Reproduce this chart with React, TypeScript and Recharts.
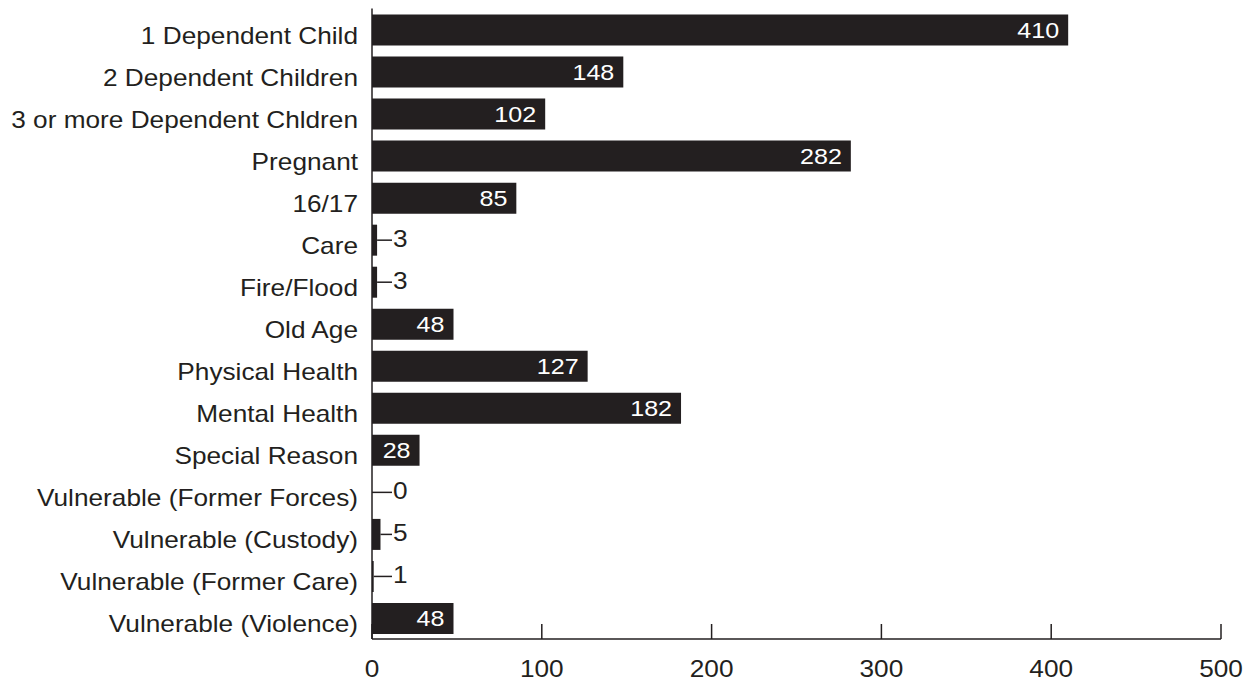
import { BarChart, Bar, XAxis, YAxis, LabelList } from 'recharts'

const categories = [
  '1 Dependent Child',
  '2 Dependent Children',
  '3 or more Dependent Chldren',
  'Pregnant',
  '16/17',
  'Care',
  'Fire/Flood',
  'Old Age',
  'Physical Health',
  'Mental Health',
  'Special Reason',
  'Vulnerable (Former Forces)',
  'Vulnerable (Custody)',
  'Vulnerable (Former Care)',
  'Vulnerable (Violence)',
]
const counts = [410, 148, 102, 282, 85, 3, 3, 48, 127, 182, 28, 0, 5, 1, 48]
const xTicks = [0, 100, 200, 300, 400, 500]

const data = categories.map((name, i) => ({ name, count: counts[i] }))

const INK = '#231f20'
const FONT = '"Liberation Sans", Arial, Helvetica, sans-serif'
const STRETCH = 1.14

function CategoryTick({ x, y, payload }: any) {
  // labels sit a little lower than the bar centre in the original
  return (
    <text
      transform={`translate(${x - 14}, ${y + 14}) scale(${STRETCH},1)`}
      textAnchor="end"
      fontSize={23}
      fontFamily={FONT}
      fill={INK}
    >
      {payload.value}
    </text>
  )
}

function ValueTick({ x, y, payload }: any) {
  return (
    <g>
      <line x1={x} y1={y} x2={x} y2={y - 15} stroke={INK} strokeWidth={1.5} />
      <text
        transform={`translate(${x}, ${y + 38}) scale(${STRETCH},1)`}
        textAnchor="middle"
        fontSize={23}
        fontFamily={FONT}
        fill={INK}
      >
        {payload.value}
      </text>
    </g>
  )
}

function renderValue(props: any) {
  const { x, y, width, height, value } = props
  const cy = y + height / 2
  if (value >= 20) {
    return (
      <text
        transform={`translate(${x + width - 9}, ${cy + 8}) scale(${STRETCH},1)`}
        textAnchor="end"
        fontSize={22}
        fontFamily={FONT}
        fill="#fff"
      >
        {value}
      </text>
    )
  }
  // small bars get the number outside with a short leader line
  return (
    <g>
      <line x1={x + width} y1={cy} x2={x + 20} y2={cy} stroke={INK} strokeWidth={1.5} />
      <text
        transform={`translate(${x + 21}, ${cy + 6.5}) scale(${STRETCH},1)`}
        textAnchor="start"
        fontSize={23}
        fontFamily={FONT}
        fill={INK}
      >
        {value}
      </text>
    </g>
  )
}

export default function App() {
  return (
    <div style={{ position: 'absolute', left: 0, top: 0, background: '#fff' }}>
      <BarChart
        width={1251}
        height={686}
        data={data}
        layout="vertical"
        margin={{ top: 8.5, right: 30, bottom: 0, left: 0 }}
        barSize={31}
      >
        <XAxis
          type="number"
          domain={[0, 500]}
          ticks={xTicks}
          height={47}
          axisLine={{ stroke: INK, strokeWidth: 1.5 }}
          tickLine={false}
          tickSize={0}
          tickMargin={0}
          tick={<ValueTick />}
          interval={0}
        />
        <YAxis
          type="category"
          dataKey="name"
          width={372}
          axisLine={{ stroke: INK, strokeWidth: 1.5 }}
          tickLine={false}
          tickSize={0}
          tickMargin={0}
          tick={<CategoryTick />}
          interval={0}
        />
        <Bar dataKey="count" fill={INK} minPointSize={0.01} isAnimationActive={false}>
          <LabelList dataKey="count" content={renderValue} />
        </Bar>
      </BarChart>
    </div>
  )
}
